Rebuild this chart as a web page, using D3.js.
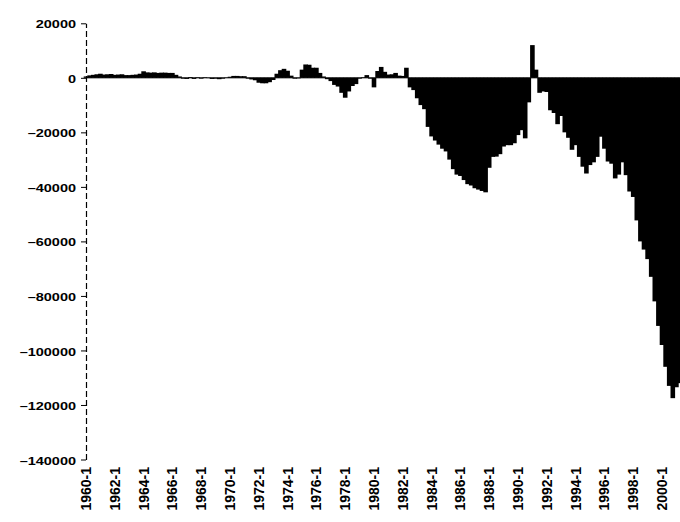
<!DOCTYPE html>
<html><head><meta charset="utf-8">
<script src="https://cdn.jsdelivr.net/npm/d3@7/dist/d3.min.js"></script>
<style>
html,body{margin:0;padding:0;background:#fff;}
svg{display:block;}
text{font-family:"Liberation Sans", Arial, sans-serif;font-weight:bold;fill:#000;}
</style></head><body>
<svg id="chart" width="680" height="522"></svg>
<script>
// Quarterly balance (millions), 1960-1 .. 2001-2
const values1960s = [
  500, 900, 1100, 1300,    1500, 1200, 1300, 1400,
  1100, 1200, 1300, 1000,  1000, 1100, 1200, 1500,
  2400, 2000, 1900, 2000,  1800, 1900, 1900, 1800,
  1800, 1100, 500, -300,   -400, 300, -400, 200,
  -300, 200, -100, -400,   -300, -500, -300, 100
];
const values1970s = [
  400, 700, 700, 600,      600, -300, -600, -900,
  -1800, -2000, -2000, -1600,  -800, 1500, 2800, 3300,
  2600, 800, -300, -200,   3000, 4900, 4800, 3700,
  3700, 1800, 500, -500,   -1200, -2600, -3200, -5500,
  -7300, -5000, -3000, -2300,  -300, 200, 1000, -300
];
const values1980s = [
  -3500, 2500, 4000, 2200,     1200, 1300, 1800, 800,
  700, 3700, -3500, -4500,     -7500, -10000, -11500, -18000,
  -21500, -23000, -24500, -26000,  -27000, -30000, -33500, -35500,
  -36000, -37500, -39000, -39500,  -40500, -41000, -41500, -42000,
  -33000, -29000, -28900, -28000,  -25200, -24700, -24700, -24000
];
const values1990s = [
  -21000, -19200, -22200, -9000,   12000, 3000, -5500, -5000,
  -5200, -11900, -12900, -17000,   -14000, -20000, -22000, -26400,
  -24700, -29000, -32600, -35100,  -32000, -31000, -29000, -21600,
  -26000, -30700, -31500, -36900,  -35500, -31000, -35700, -41700,
  -43700, -52300, -60000, -63000,  -66500, -73000, -82000, -91000
];
const values2000s = [
  -98000, -106000, -113000, -117500,  -113500, -112000
];
const firstYear = 1960;
const quarterNames = ["1", "2", "3", "4"];
const yTicks = [20000, 0, -20000, -40000, -60000, -80000, -100000, -120000, -140000];
const tickLabels = ["1960-1","1962-1","1964-1","1966-1","1968-1","1970-1","1972-1","1974-1",
  "1976-1","1978-1","1980-1","1982-1","1984-1","1986-1","1988-1","1990-1","1992-1",
  "1994-1","1996-1","1998-1","2000-1"];

const values = [].concat(values1960s, values1970s, values1980s, values1990s, values2000s);
const categories = values.map((v, i) => (firstYear + Math.floor(i / 4)) + "-" + quarterNames[i % 4]);
const data = values.map((v, i) => ({cat: categories[i], v}));

const svg = d3.select("#chart");
const step = 3.6;
const x = d3.scaleBand().domain(categories)
  .range([86 - step / 2, 86 - step / 2 + categories.length * step])
  .paddingInner(0).paddingOuter(0);
const y = d3.scaleLinear().domain([-140000, 20000]).range([459.5, 23.3]);

// bars
svg.append("g").selectAll("rect").data(data).join("rect")
  .attr("x", d => x(d.cat) - 0.5)
  .attr("width", x.bandwidth() + 1)
  .attr("y", d => y(Math.max(0, d.v)))
  .attr("height", d => Math.abs(y(d.v) - y(0)))
  .attr("fill", "#000");

// zero line
svg.append("line")
  .attr("x1", 86).attr("x2", 680)
  .attr("y1", y(0)).attr("y2", y(0))
  .attr("stroke", "#000").attr("stroke-width", 1);

// y axis
const yAxis = d3.axisLeft(y).tickValues(yTicks).tickSize(5).tickSizeOuter(0).tickPadding(5)
  .tickFormat(d => d < 0 ? "\u2013" + Math.abs(d) : String(d));
const gy = svg.append("g").attr("transform", "translate(86,0)").call(yAxis);
gy.select(".domain").attr("stroke", "#000").attr("stroke-width", 1.2).attr("stroke-dasharray", "6,3");
gy.selectAll(".tick line").attr("stroke", "#000").attr("stroke-width", 1);
gy.selectAll(".tick text")
  .style("font-size", "14.5px")
  .style("font-family", "'Liberation Sans', Arial, sans-serif")
  .style("font-weight", "bold")
  .attr("transform", "scale(1,0.75)")
  .attr("dy", "0.42em");

// x axis labels
const xAxis = d3.axisBottom(x).tickValues(tickLabels).tickSize(0).tickPadding(0);
const gx = svg.append("g").attr("transform", "translate(0,463)").call(xAxis);
gx.select(".domain").remove();
gx.selectAll(".tick text")
  .attr("transform", "rotate(-90)")
  .attr("text-anchor", "end")
  .attr("x", -4).attr("y", 0).attr("dy", "0.36em")
  .style("font-size", "14px")
  .style("font-family", "'Liberation Sans', Arial, sans-serif")
  .style("font-weight", "bold");
</script>
</body></html>
